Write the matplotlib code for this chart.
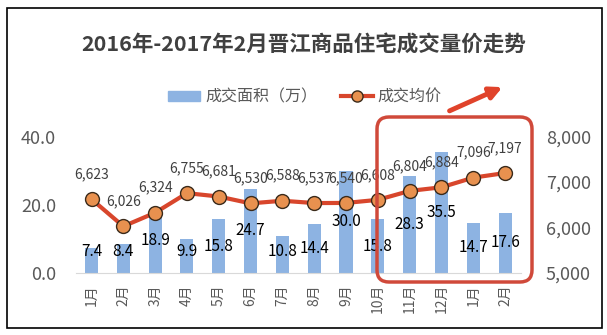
import matplotlib
matplotlib.use("Agg")
import matplotlib.pyplot as plt
import numpy as np
from matplotlib.patches import FancyBboxPatch, FancyArrowPatch, Rectangle
from matplotlib.lines import Line2D

months = ["1月", "2月", "3月", "4月", "5月", "6月", "7月", "8月", "9月", "10月", "11月", "12月", "1月", "2月"]
area = [7.4, 8.4, 18.9, 9.9, 15.8, 24.7, 10.8, 14.4, 30.0, 15.8, 28.3, 35.5, 14.7, 17.6]
price = [6623, 6026, 6324, 6755, 6681, 6530, 6588, 6537, 6540, 6608, 6804, 6884, 7096, 7197]
left_ticks = [0, 20, 40]
right_ticks = [5000, 6000, 7000, 8000]

BAR = "#8DB3E2"
LINE = "#D8462C"
MARK = "#E8914F"
GRAY = "#595959"

plt.rcParams["font.family"] = ["Noto Sans CJK SC", "DejaVu Sans"]

W, H = 607, 335
fig = plt.figure(figsize=(W / 100, H / 100), dpi=100)


def fx(px):
    return px / W


def fy(py):
    return 1 - py / H


ax = fig.add_axes([fx(75.6), fy(273), (521 - 75.6) / W, (273 - 136.5) / H])
x = np.arange(len(months))
ax.bar(x, area, width=0.41, color=BAR, zorder=2)
ax.set_xlim(-0.5, len(months) - 0.5)
ax.set_ylim(0, 40)
ax.set_yticks(left_ticks)
ax.set_yticklabels([f"{t:.1f}" for t in left_ticks], fontsize=13, color=GRAY)
ax.set_xticks(x)
ax.set_xticklabels(months, rotation=90, fontsize=10, color=GRAY)
ax.tick_params(axis="y", length=0, pad=14)
ax.tick_params(axis="x", length=0, pad=8)
for s in ["top", "left", "right"]:
    ax.spines[s].set_visible(False)
ax.spines["bottom"].set_color("#D9D9D9")
ax.set_facecolor("none")

for i, v in enumerate(area):
    ax.text(i, max(v / 2, 6.2), f"{v:.1f}", ha="center", va="center",
            fontsize=11, color="black", zorder=5)

ax2 = ax.twinx()
ax2.plot(x, price, color=LINE, lw=3, marker="o", markersize=10,
         markerfacecolor=MARK, markeredgecolor="#3A2A1A", markeredgewidth=1, zorder=3)
ax2.set_ylim(5000, 8000)
ax2.set_yticks(right_ticks)
ax2.set_yticklabels([f"{t:,}" for t in right_ticks], fontsize=13, color=GRAY)
ax2.tick_params(axis="y", length=0, pad=18)
for s in ["top", "left", "right", "bottom"]:
    ax2.spines[s].set_visible(False)

for i, p in enumerate(price):
    ax2.annotate(f"{p:,}", (i, p), xytext=(0, 18), textcoords="offset points",
                 ha="center", va="center", fontsize=10, color="#404040",
                 annotation_clip=False)

fig.text(0.5, fy(45), "2016年-2017年2月晋江商品住宅成交量价走势", ha="center", va="center",
         fontsize=15.5, fontweight="bold", color="#404040")

handles = [
    Rectangle((0, 0), 1, 1, color=BAR),
    Line2D([], [], color=LINE, lw=3, marker="o", markersize=8,
           markerfacecolor=MARK, markeredgecolor="#3A2A1A"),
]
leg = fig.legend(handles, ["成交面积（万）", "成交均价"], loc="center",
                 bbox_to_anchor=(fx(305), fy(97)), ncol=2, frameon=False,
                 fontsize=11.5, handlelength=2.0, handleheight=0.6,
                 columnspacing=1.5, handletextpad=0.3)
for t in leg.get_texts():
    t.set_color(GRAY)

# outer frame
fig.patches.append(Rectangle((fx(7), fy(328)), fx(602) - fx(7), fy(8) - fy(328),
                             transform=fig.transFigure, fill=False, ec="black", lw=1.2))

# highlight box and arrow
fig.patches.append(FancyBboxPatch((3.77, (H - 282) / 100), 1.55, 1.65,
                                  boxstyle="round,pad=0,rounding_size=0.12",
                                  transform=fig.dpi_scale_trans, fill=False,
                                  ec="#D0493A", lw=2.5, zorder=10))
fig.patches.append(FancyArrowPatch((4.47, (H - 112) / 100), (5.05, (H - 86) / 100),
                                   transform=fig.dpi_scale_trans, arrowstyle="-|>",
                                   mutation_scale=18, color="#E0432B", lw=3.5, zorder=10))

fig.savefig("out.png", dpi=100)
